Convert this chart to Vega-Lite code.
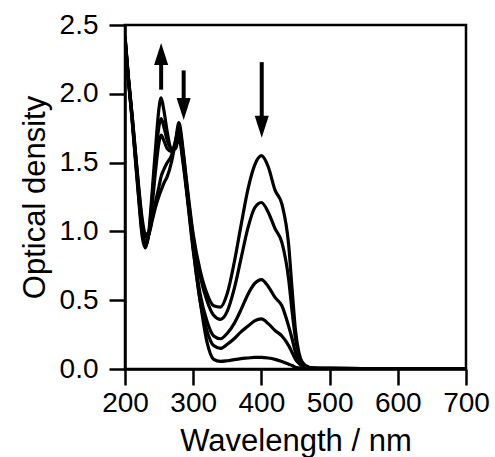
{
  "$schema": "https://vega.github.io/schema/vega-lite/v6.json",
  "width": 341,
  "height": 344,
  "autosize": {"type": "none"},
  "padding": {"left": 125, "top": 25, "right": 29, "bottom": 88},
  "background": "white",
  "config": {
    "font": "Liberation Sans",
    "view": {"stroke": "black", "strokeWidth": 2.5},
    "axis": {
      "domainColor": "black", "domainWidth": 2.5,
      "tickColor": "black", "tickWidth": 2.5, "tickSize": 16,
      "labelColor": "black", "labelFontSize": 28, "labelFont": "Liberation Sans",
      "labelFlush": false, "labelOverlap": false,
      "titleColor": "black", "titleFontSize": 31, "titleFontWeight": "normal", "titleFont": "Liberation Sans",
      "grid": false
    }
  },
  "datasets": {
    "spectra": [
      {"s":"A","wl":200,"od":2.42},{"s":"A","wl":205,"od":2.12},{"s":"A","wl":210,"od":1.87},{"s":"A","wl":215,"od":1.6},{"s":"A","wl":220,"od":1.33},{"s":"A","wl":225,"od":1.1},{"s":"A","wl":230,"od":0.98},{"s":"A","wl":235,"od":0.99},{"s":"A","wl":240,"od":1.08},{"s":"A","wl":245,"od":1.18},{"s":"A","wl":250,"od":1.26},{"s":"A","wl":253,"od":1.3},{"s":"A","wl":257,"od":1.35},{"s":"A","wl":262,"od":1.4},{"s":"A","wl":268,"od":1.5},{"s":"A","wl":274,"od":1.65},{"s":"A","wl":279,"od":1.79},{"s":"A","wl":285,"od":1.6},{"s":"A","wl":290,"od":1.38},{"s":"A","wl":300,"od":0.98},{"s":"A","wl":310,"od":0.72},{"s":"A","wl":320,"od":0.55},{"s":"A","wl":330,"od":0.46},{"s":"A","wl":340,"od":0.45},{"s":"A","wl":350,"od":0.55},{"s":"A","wl":360,"od":0.77},{"s":"A","wl":370,"od":1.04},{"s":"A","wl":380,"od":1.3},{"s":"A","wl":390,"od":1.48},{"s":"A","wl":400,"od":1.55},{"s":"A","wl":410,"od":1.47},{"s":"A","wl":420,"od":1.3},{"s":"A","wl":430,"od":1.2},{"s":"A","wl":440,"od":0.9},{"s":"A","wl":445,"od":0.58},{"s":"A","wl":450,"od":0.28},{"s":"A","wl":455,"od":0.12},{"s":"A","wl":460,"od":0.05},{"s":"A","wl":470,"od":0.012},{"s":"A","wl":480,"od":0.006},{"s":"A","wl":500,"od":0.004},{"s":"A","wl":600,"od":0.003},{"s":"A","wl":700,"od":0.002},
      {"s":"B","wl":200,"od":2.42},{"s":"B","wl":205,"od":2.12},{"s":"B","wl":210,"od":1.86},{"s":"B","wl":215,"od":1.59},{"s":"B","wl":220,"od":1.31},{"s":"B","wl":225,"od":1.07},{"s":"B","wl":230,"od":0.96},{"s":"B","wl":235,"od":0.98},{"s":"B","wl":240,"od":1.1},{"s":"B","wl":245,"od":1.22},{"s":"B","wl":250,"od":1.33},{"s":"B","wl":253,"od":1.4},{"s":"B","wl":257,"od":1.45},{"s":"B","wl":262,"od":1.5},{"s":"B","wl":268,"od":1.55},{"s":"B","wl":274,"od":1.66},{"s":"B","wl":279,"od":1.76},{"s":"B","wl":285,"od":1.58},{"s":"B","wl":290,"od":1.36},{"s":"B","wl":300,"od":0.96},{"s":"B","wl":310,"od":0.68},{"s":"B","wl":320,"od":0.5},{"s":"B","wl":330,"od":0.39},{"s":"B","wl":340,"od":0.36},{"s":"B","wl":350,"od":0.42},{"s":"B","wl":360,"od":0.58},{"s":"B","wl":370,"od":0.8},{"s":"B","wl":380,"od":1.02},{"s":"B","wl":390,"od":1.17},{"s":"B","wl":400,"od":1.21},{"s":"B","wl":410,"od":1.14},{"s":"B","wl":420,"od":1.02},{"s":"B","wl":430,"od":0.92},{"s":"B","wl":440,"od":0.65},{"s":"B","wl":445,"od":0.42},{"s":"B","wl":450,"od":0.22},{"s":"B","wl":455,"od":0.1},{"s":"B","wl":460,"od":0.04},{"s":"B","wl":470,"od":0.01},{"s":"B","wl":480,"od":0.005},{"s":"B","wl":500,"od":0.004},{"s":"B","wl":600,"od":0.003},{"s":"B","wl":700,"od":0.002},
      {"s":"C","wl":200,"od":2.41},{"s":"C","wl":205,"od":2.11},{"s":"C","wl":210,"od":1.85},{"s":"C","wl":215,"od":1.57},{"s":"C","wl":220,"od":1.28},{"s":"C","wl":225,"od":1.03},{"s":"C","wl":230,"od":0.92},{"s":"C","wl":235,"od":0.98},{"s":"C","wl":240,"od":1.2},{"s":"C","wl":245,"od":1.45},{"s":"C","wl":250,"od":1.65},{"s":"C","wl":253,"od":1.7},{"s":"C","wl":257,"od":1.66},{"s":"C","wl":262,"od":1.6},{"s":"C","wl":268,"od":1.58},{"s":"C","wl":274,"od":1.63},{"s":"C","wl":279,"od":1.72},{"s":"C","wl":285,"od":1.55},{"s":"C","wl":290,"od":1.33},{"s":"C","wl":300,"od":0.9},{"s":"C","wl":310,"od":0.55},{"s":"C","wl":320,"od":0.35},{"s":"C","wl":330,"od":0.24},{"s":"C","wl":340,"od":0.22},{"s":"C","wl":350,"od":0.26},{"s":"C","wl":360,"od":0.33},{"s":"C","wl":370,"od":0.43},{"s":"C","wl":380,"od":0.54},{"s":"C","wl":390,"od":0.62},{"s":"C","wl":400,"od":0.65},{"s":"C","wl":410,"od":0.6},{"s":"C","wl":420,"od":0.52},{"s":"C","wl":430,"od":0.46},{"s":"C","wl":440,"od":0.31},{"s":"C","wl":445,"od":0.22},{"s":"C","wl":450,"od":0.12},{"s":"C","wl":455,"od":0.06},{"s":"C","wl":460,"od":0.03},{"s":"C","wl":470,"od":0.008},{"s":"C","wl":480,"od":0.005},{"s":"C","wl":500,"od":0.004},{"s":"C","wl":600,"od":0.003},{"s":"C","wl":700,"od":0.002},
      {"s":"D","wl":200,"od":2.4},{"s":"D","wl":205,"od":2.1},{"s":"D","wl":210,"od":1.84},{"s":"D","wl":215,"od":1.55},{"s":"D","wl":220,"od":1.26},{"s":"D","wl":225,"od":1.0},{"s":"D","wl":230,"od":0.9},{"s":"D","wl":235,"od":0.98},{"s":"D","wl":240,"od":1.25},{"s":"D","wl":245,"od":1.55},{"s":"D","wl":250,"od":1.77},{"s":"D","wl":253,"od":1.82},{"s":"D","wl":257,"od":1.76},{"s":"D","wl":262,"od":1.66},{"s":"D","wl":268,"od":1.6},{"s":"D","wl":274,"od":1.62},{"s":"D","wl":279,"od":1.7},{"s":"D","wl":285,"od":1.53},{"s":"D","wl":290,"od":1.32},{"s":"D","wl":300,"od":0.88},{"s":"D","wl":310,"od":0.5},{"s":"D","wl":320,"od":0.28},{"s":"D","wl":330,"od":0.17},{"s":"D","wl":340,"od":0.15},{"s":"D","wl":350,"od":0.18},{"s":"D","wl":360,"od":0.22},{"s":"D","wl":370,"od":0.27},{"s":"D","wl":380,"od":0.31},{"s":"D","wl":390,"od":0.35},{"s":"D","wl":400,"od":0.365},{"s":"D","wl":410,"od":0.33},{"s":"D","wl":420,"od":0.28},{"s":"D","wl":430,"od":0.24},{"s":"D","wl":440,"od":0.17},{"s":"D","wl":445,"od":0.12},{"s":"D","wl":450,"od":0.07},{"s":"D","wl":455,"od":0.04},{"s":"D","wl":460,"od":0.02},{"s":"D","wl":470,"od":0.006},{"s":"D","wl":480,"od":0.004},{"s":"D","wl":500,"od":0.004},{"s":"D","wl":600,"od":0.003},{"s":"D","wl":700,"od":0.002},
      {"s":"E","wl":200,"od":2.4},{"s":"E","wl":205,"od":2.1},{"s":"E","wl":210,"od":1.83},{"s":"E","wl":215,"od":1.53},{"s":"E","wl":220,"od":1.24},{"s":"E","wl":225,"od":0.97},{"s":"E","wl":230,"od":0.88},{"s":"E","wl":235,"od":1.0},{"s":"E","wl":240,"od":1.3},{"s":"E","wl":245,"od":1.62},{"s":"E","wl":250,"od":1.9},{"s":"E","wl":253,"od":1.97},{"s":"E","wl":257,"od":1.88},{"s":"E","wl":262,"od":1.72},{"s":"E","wl":268,"od":1.6},{"s":"E","wl":274,"od":1.6},{"s":"E","wl":279,"od":1.68},{"s":"E","wl":285,"od":1.5},{"s":"E","wl":290,"od":1.3},{"s":"E","wl":300,"od":0.86},{"s":"E","wl":310,"od":0.5},{"s":"E","wl":320,"od":0.2},{"s":"E","wl":330,"od":0.07},{"s":"E","wl":340,"od":0.055},{"s":"E","wl":350,"od":0.06},{"s":"E","wl":360,"od":0.068},{"s":"E","wl":370,"od":0.075},{"s":"E","wl":380,"od":0.08},{"s":"E","wl":390,"od":0.085},{"s":"E","wl":400,"od":0.085},{"s":"E","wl":410,"od":0.08},{"s":"E","wl":420,"od":0.07},{"s":"E","wl":430,"od":0.055},{"s":"E","wl":440,"od":0.035},{"s":"E","wl":445,"od":0.025},{"s":"E","wl":450,"od":0.012},{"s":"E","wl":455,"od":0.008},{"s":"E","wl":460,"od":0.005},{"s":"E","wl":470,"od":0.003},{"s":"E","wl":480,"od":0.003},{"s":"E","wl":500,"od":0.003},{"s":"E","wl":600,"od":0.002},{"s":"E","wl":700,"od":0.002}
    ],
    "arrows": [
      {"wl": 253, "tail": 2.03, "head": 2.29, "dir": "up"},
      {"wl": 286, "tail": 2.17, "head": 1.89, "dir": "down"},
      {"wl": 400.5, "tail": 2.23, "head": 1.76, "dir": "down"}
    ]
  },
  "layer": [
    {
      "data": {"name": "spectra"},
      "mark": {"type": "line", "color": "black", "strokeWidth": 3.2, "interpolate": "monotone", "clip": true},
      "encoding": {
        "x": {"field": "wl", "type": "quantitative", "scale": {"domain": [200, 700], "nice": false},
              "axis": {"values": [200, 300, 400, 500, 600, 700], "title": "Wavelength / nm", "labelPadding": 4, "titlePadding": 9}},
        "y": {"field": "od", "type": "quantitative", "scale": {"domain": [0, 2.5], "nice": false},
              "axis": {"values": [0, 0.5, 1, 1.5, 2, 2.5], "format": ".1f", "title": "Optical density", "labelPadding": 11, "titlePadding": 8}},
        "detail": {"field": "s"}
      }
    },
    {
      "data": {"name": "arrows"},
      "mark": {"type": "rule", "color": "black", "strokeWidth": 4},
      "encoding": {
        "x": {"field": "wl", "type": "quantitative"},
        "y": {"field": "tail", "type": "quantitative"},
        "y2": {"field": "head"}
      }
    },
    {
      "data": {"name": "arrows"},
      "transform": [{"filter": "datum.dir == 'up'"}],
      "mark": {"type": "point", "filled": true, "color": "black", "opacity": 1, "size": 484, "shape": "M0,-1L0.64,1L-0.64,1Z"},
      "encoding": {
        "x": {"field": "wl", "type": "quantitative"},
        "y": {"field": "head", "type": "quantitative"}
      }
    },
    {
      "data": {"name": "arrows"},
      "transform": [{"filter": "datum.dir == 'down'"}],
      "mark": {"type": "point", "filled": true, "color": "black", "opacity": 1, "size": 484, "shape": "M0,1L0.64,-1L-0.64,-1Z"},
      "encoding": {
        "x": {"field": "wl", "type": "quantitative"},
        "y": {"field": "head", "type": "quantitative"}
      }
    }
  ]
}
